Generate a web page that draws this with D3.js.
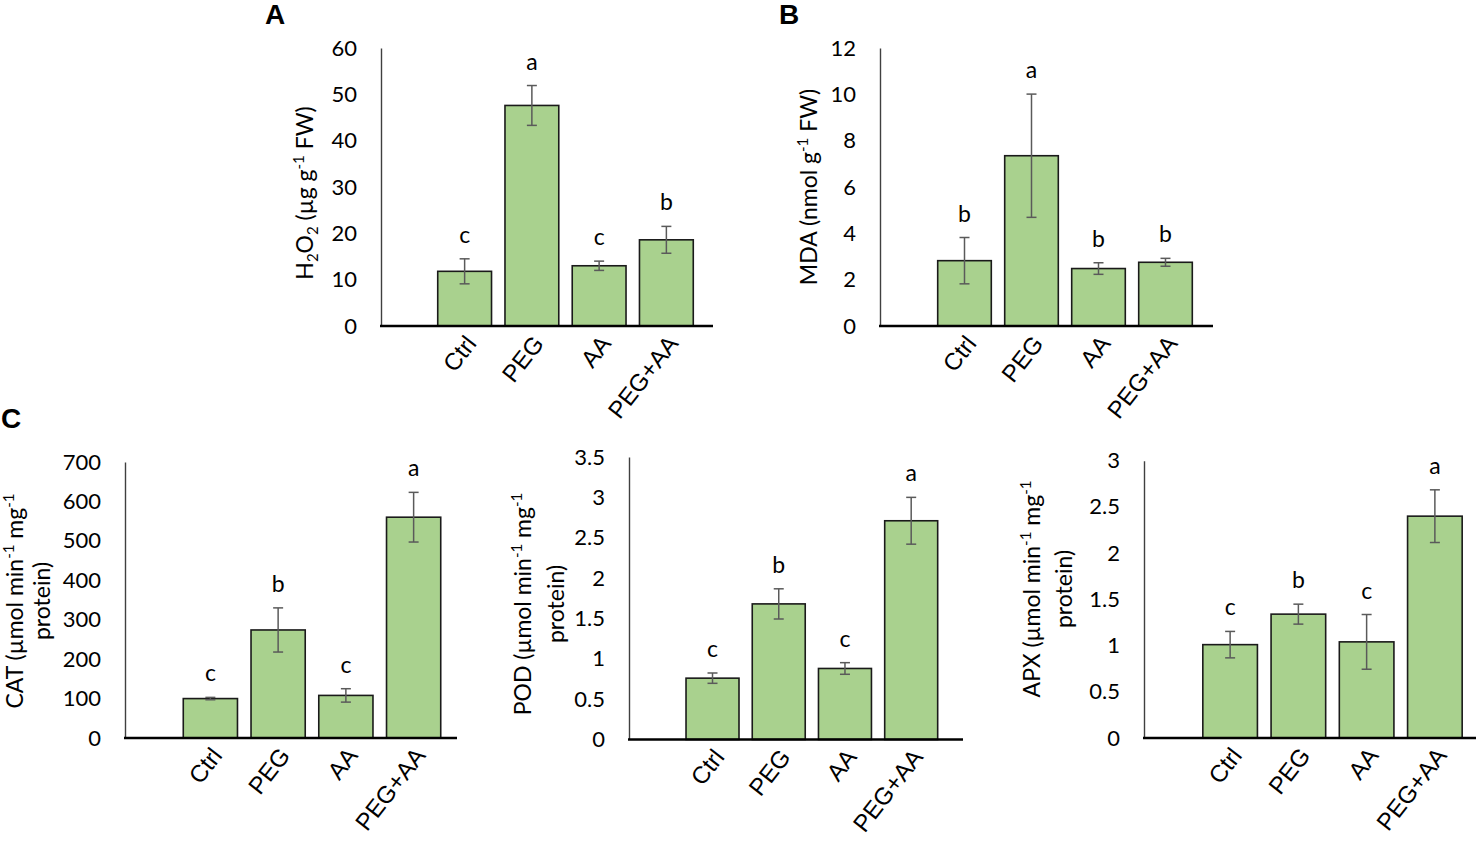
<!DOCTYPE html>
<html>
<head>
<meta charset="utf-8">
<script src="https://cdn.jsdelivr.net/npm/d3@7"></script>
<style>
  html, body { margin: 0; padding: 0; background: #fff; }
  svg { display: block; }
  .tick text { font-family: Lato, "Open Sans", sans-serif; font-size: 22px; fill: #000; }
</style>
</head>
<body>
<div id="chart"></div>
<script>
// Categories shared by all five panels
const categories = ['Ctrl', 'PEG', 'AA', 'PEG+AA'];

// A: H2O2
const h2o2Mean = [11.8, 47.6, 13.0, 18.6];
const h2o2Err = [2.7, 4.3, 1.0, 2.9];
const h2o2Letters = ['c', 'a', 'c', 'b'];
const h2o2Ticks = [0, 10, 20, 30, 40, 50, 60];

// B: MDA
const mdaMean = [2.82, 7.35, 2.48, 2.75];
const mdaErr = [1.0, 2.66, 0.25, 0.17];
const mdaLetters = ['b', 'a', 'b', 'b'];
const mdaTicks = [0, 2, 4, 6, 8, 10, 12];

// C: CAT, POD, APX
const catMean = [100, 274, 108, 560];
const catErr = [3, 56, 17, 63];
const catLetters = ['c', 'b', 'c', 'a'];
const catTicks = [0, 100, 200, 300, 400, 500, 600, 700];

const podMean = [0.76, 1.68, 0.88, 2.71];
const podErr = [0.064, 0.187, 0.072, 0.29];
const podLetters = ['c', 'b', 'c', 'a'];
const podTicks = [0, 0.5, 1, 1.5, 2, 2.5, 3, 3.5];

const apxMean = [1.01, 1.34, 1.04, 2.40];
const apxErr = [0.143, 0.108, 0.296, 0.285];
const apxLetters = ['c', 'b', 'c', 'a'];
const apxTicks = [0, 0.5, 1, 1.5, 2, 2.5, 3];

const W = 1476, H = 845;
const FONT = 'Lato, "Open Sans", sans-serif';
const BAR_FILL = '#a9d18e';

const svg = d3.select('#chart').append('svg')
  .attr('width', W)
  .attr('height', H);

// Panel geometry (pixels) — kept apart from the data above
const panels = [
  { mean: h2o2Mean, err: h2o2Err, letters: h2o2Letters, ticks: h2o2Ticks,
    axisX: 381, top: 48, zero: 326, band: [431, 700], axisEnd: 713,
    titleY: 193, titleLines: [{ x: 313, segs: [['H'], ['2', 'sub'], ['O'], ['2', 'sub'], [' (µg g'], ['-1', 'sup'], ['  FW)']] }] },
  { mean: mdaMean, err: mdaErr, letters: mdaLetters, ticks: mdaTicks,
    axisX: 880, top: 48, zero: 326, band: [931, 1199], axisEnd: 1213,
    titleY: 187, titleLines: [{ x: 817, segs: [['MDA (nmol g'], ['-1', 'sup'], ['  FW)']] }] },
  { mean: catMean, err: catErr, letters: catLetters, ticks: catTicks,
    axisX: 125, top: 462, zero: 738, band: [176.5, 447.5], axisEnd: 457,
    titleY: 601, titleLines: [
      { x: 23, segs: [['CAT (µmol min'], ['-1', 'sup'], [' mg'], ['-1', 'sup']] },
      { x: 50, segs: [['protein)']] }] },
  { mean: podMean, err: podErr, letters: podLetters, ticks: podTicks,
    axisX: 629, top: 457, zero: 739.5, band: [679.4, 944.3], axisEnd: 963,
    titleY: 604, titleLines: [
      { x: 531, segs: [['POD (µmol min'], ['-1', 'sup'], [' mg'], ['-1', 'sup']] },
      { x: 564, segs: [['protein)']] }] },
  { mean: apxMean, err: apxErr, letters: apxLetters, ticks: apxTicks,
    axisX: 1144, top: 460.7, zero: 738, band: [1196, 1469], axisEnd: 1476,
    titleY: 589, titleLines: [
      { x: 1040, segs: [['APX (µmol min'], ['-1', 'sup'], [' mg'], ['-1', 'sup']] },
      { x: 1072, segs: [['protein)']] }] }
];

// Write text with sub/superscript pieces as tspans
function addRich(text, segs) {
  let off = 0;
  segs.forEach(([t, kind]) => {
    const target = kind === 'sub' ? 5 : kind === 'sup' ? -9 : 0;
    text.append('tspan')
      .attr('dy', target - off)
      .style('font-size', kind ? '15px' : null)
      .text(t);
    off = target;
  });
}

function drawPanel(p) {
  const g = svg.append('g');
  const ymax = p.ticks[p.ticks.length - 1];

  const x = d3.scaleBand()
    .domain(categories)
    .range(p.band)
    .paddingInner(0.2)
    .paddingOuter(0.1);

  const y = d3.scaleLinear()
    .domain([0, ymax])
    .range([p.zero, p.top]);

  // y axis: no tick marks, labels only
  const yAxis = g.append('g')
    .attr('transform', `translate(${p.axisX},0)`)
    .call(d3.axisLeft(y).tickValues(p.ticks).tickSize(0).tickSizeOuter(0).tickPadding(24).tickFormat(d => String(d)));
  yAxis.select('.domain').attr('stroke', '#404040').attr('stroke-width', 1.4);

  const rows = categories.map((c, i) => ({ c, v: p.mean[i], e: p.err[i], l: p.letters[i] }));

  g.selectAll('rect.bar')
    .data(rows)
    .join('rect')
    .attr('class', 'bar')
    .attr('x', d => x(d.c))
    .attr('y', d => y(d.v))
    .attr('width', x.bandwidth())
    .attr('height', d => y(0) - y(d.v))
    .attr('fill', BAR_FILL)
    .attr('stroke', '#1a1a1a')
    .attr('stroke-width', 1.6);

  // error bars
  const eb = g.selectAll('g.err')
    .data(rows)
    .join('g')
    .attr('class', 'err')
    .attr('stroke', '#5a5a5a')
    .attr('stroke-width', 1.5);
  const cx = d => x(d.c) + x.bandwidth() / 2;
  eb.append('line')
    .attr('x1', cx).attr('x2', cx)
    .attr('y1', d => y(d.v + d.e)).attr('y2', d => y(d.v - d.e));
  eb.append('line')
    .attr('x1', d => cx(d) - 5).attr('x2', d => cx(d) + 5)
    .attr('y1', d => y(d.v + d.e)).attr('y2', d => y(d.v + d.e));
  eb.append('line')
    .attr('x1', d => cx(d) - 5).attr('x2', d => cx(d) + 5)
    .attr('y1', d => y(d.v - d.e)).attr('y2', d => y(d.v - d.e));

  // significance letters
  g.selectAll('text.sig')
    .data(rows)
    .join('text')
    .attr('class', 'sig')
    .attr('x', cx)
    .attr('y', d => y(d.v + d.e) - 16)
    .attr('text-anchor', 'middle')
    .style('font-family', FONT)
    .style('font-size', '23px')
    .text(d => d.l);

  // x axis line
  g.append('line')
    .attr('x1', p.axisX - 1).attr('x2', p.axisEnd)
    .attr('y1', y(0)).attr('y2', y(0))
    .attr('stroke', '#000')
    .attr('stroke-width', 2.6);

  // rotated category labels
  g.selectAll('text.cat')
    .data(categories)
    .join('text')
    .attr('class', 'cat')
    .attr('transform', c => `translate(${x(c) + x.bandwidth() / 2 + 13},${y(0) + 18}) rotate(-52)`)
    .attr('text-anchor', 'end')
    .style('font-family', '"Liberation Sans", Arial, sans-serif')
    .style('font-size', '24px')
    .text(c => c);

  // axis title
  p.titleLines.forEach(line => {
    const t = g.append('text')
      .attr('transform', `translate(${line.x},${p.titleY}) rotate(-90)`)
      .attr('text-anchor', 'middle')
      .style('font-family', FONT)
      .style('font-size', '23px');
    addRich(t, line.segs);
  });
}

panels.forEach(drawPanel);

// panel letters
const tags = [['A', 265, 24], ['B', 779, 24], ['C', 1, 428]];
svg.selectAll('text.tag')
  .data(tags)
  .join('text')
  .attr('class', 'tag')
  .attr('x', d => d[1])
  .attr('y', d => d[2])
  .style('font-family', '"Liberation Sans", Arial, sans-serif')
  .style('font-weight', 'bold')
  .style('font-size', '28px')
  .text(d => d[0]);
</script>
</body>
</html>
